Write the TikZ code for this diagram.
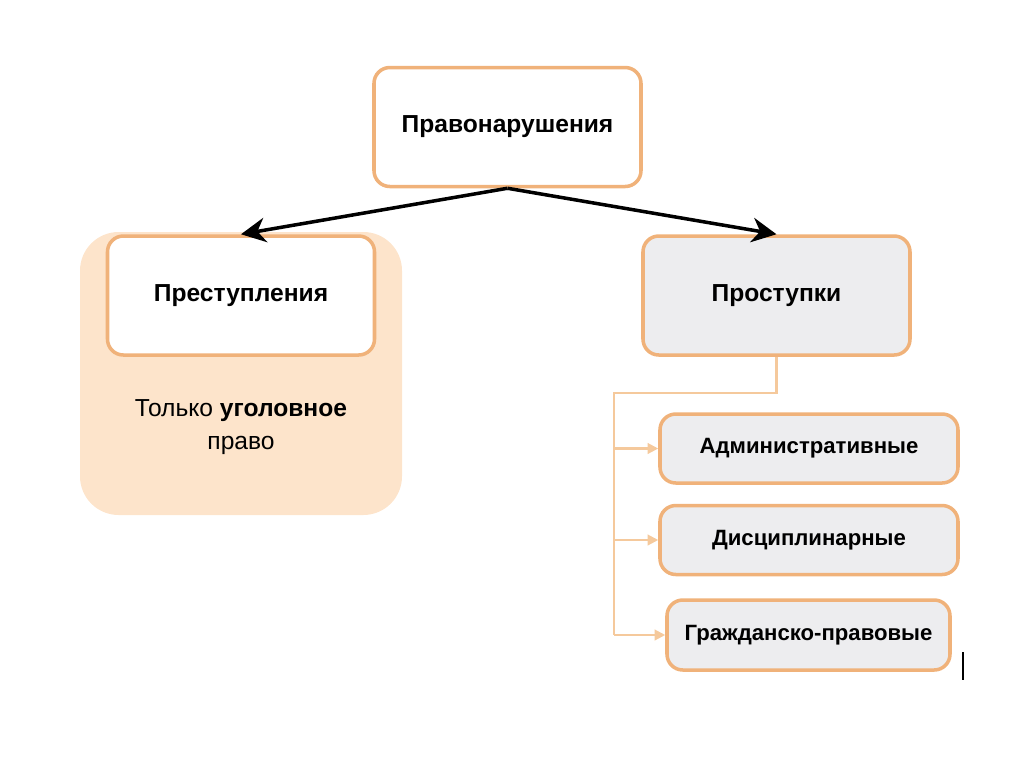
\documentclass[tikz,border=0pt]{standalone}
\usepackage{fontspec}
\setmainfont{Liberation Sans}
\usepackage{tikz}
\usetikzlibrary{arrows.meta, positioning, calc}
\definecolor{edgeor}{HTML}{F0B27A}
\definecolor{lineor}{HTML}{F5C99C}
\definecolor{peach}{HTML}{FDE4CB}
\definecolor{lightgr}{HTML}{EDEDEF}

\begin{document}
\begin{tikzpicture}[
  font=\fontsize{7}{8.6}\selectfont,
  box/.style={draw=edgeor, line width=1pt, rectangle, rounded corners=4.5pt,
              minimum width=2.67cm, minimum height=1.19cm, fill=white,
              font=\fontsize{7}{8.6}\selectfont\bfseries},
  sub/.style={box, fill=lightgr, minimum width=2.98cm, minimum height=0.69cm,
              font=\fontsize{6.3}{7.6}\selectfont\bfseries},
  arr/.style={-{Stealth[length=7pt, width=7pt]}, line width=1pt},
  oarr/.style={-{Triangle[length=3pt, width=3pt]}, draw=lineor, line width=0.6pt}
]
\useasboundingbox (0,0) rectangle (10.24,-7.67);

% Crime area
\node[fill=peach, rounded corners=11pt, minimum width=3.22cm,
      minimum height=2.83cm] (AREA) at (2.41,-3.735) {};

% Top level
\node[box] (TOP) at (5.075,-1.27) {Правонарушения};
\node[box] (CRIM) at (2.41,-2.955) {Преступления};
\node[box, fill=lightgr] (MISD) at (7.765,-2.955) {Проступки};

\node[align=center] (NOTE) at (2.41,-4.27)
  {Только \textbf{уголовное}\\[1pt]право};

\draw[arr] (TOP.south) -- (CRIM.north);
\draw[arr] (TOP.south) -- (MISD.north);

% Kinds of misdemeanours
\node[sub] (ADM) at (8.09,-4.485) {Административные};
\node[sub] (DISC) at (8.09,-5.40) {Дисциплинарные};
\node[sub, minimum width=2.83cm, minimum height=0.70cm] (CIV) at (8.085,-6.35)
  {Гражданско-правовые};

\coordinate (BR) at (6.14,-3.93);
\draw[draw=lineor, line width=0.6pt] (MISD.south) |- (BR) -- (BR |- CIV.west);
\foreach \k in {ADM,DISC,CIV}{
  \draw[oarr] (BR |- \k.west) -- (\k.west);
}

% Cursor mark
\coordinate (CUR) at (9.63,-6.52);
\draw[line width=0.5pt] (CUR) -- ++(0,-0.28);

\end{tikzpicture}
\end{document}
